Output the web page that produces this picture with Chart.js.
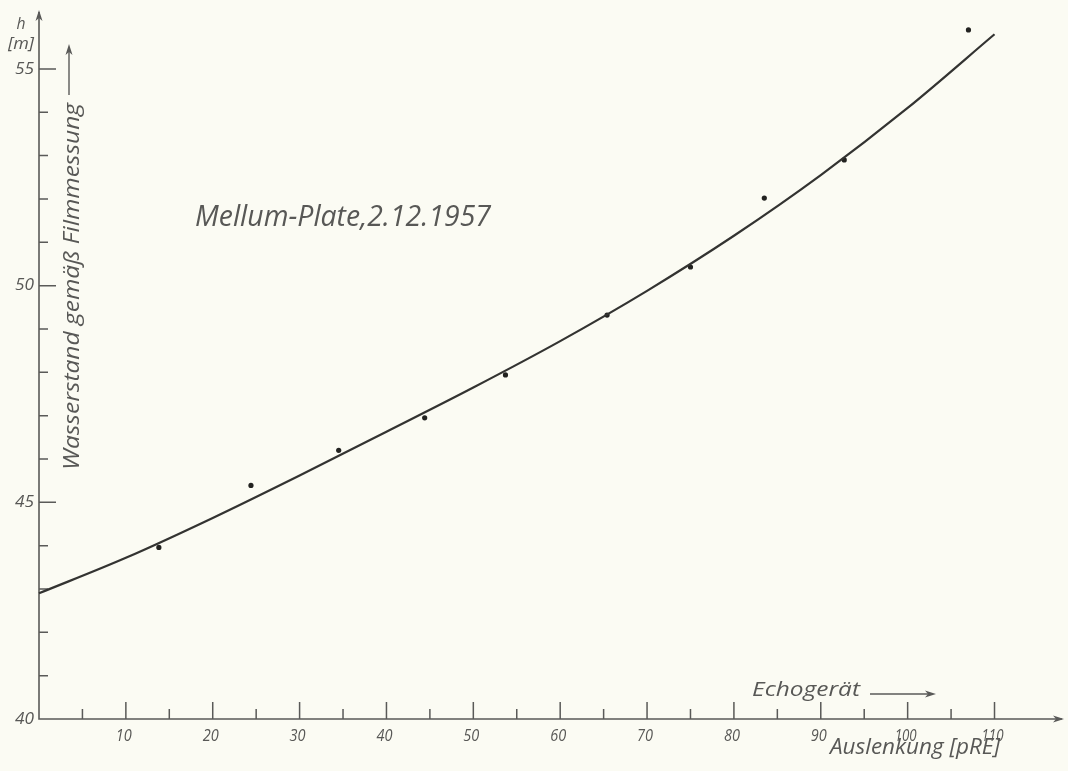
<!DOCTYPE html>
<html>
<head>
<meta charset="utf-8">
<script src="https://cdn.jsdelivr.net/npm/chart.js@4/dist/chart.umd.min.js"></script>
<style>
  html, body { margin: 0; padding: 0; background: #fbfbf3; }
  #wrap { width: 1068px; height: 771px; }
</style>
</head>
<body>
<div id="wrap"><canvas id="c" width="1068" height="771"></canvas></div>
<script>
// Fitted curve: water level (film measurement) vs. echo sounder deflection
const curveX = [0, 10, 20, 30, 40, 50, 60, 70, 80, 90, 100, 110];
const curveY = [42.9, 43.72, 44.64, 45.62, 46.63, 47.65, 48.72, 49.88, 51.15, 52.55, 54.1, 55.8];

// Measured points
const pointX = [13.8, 24.4, 34.5, 44.4, 53.7, 65.4, 75.0, 83.5, 92.7, 107.0];
const pointY = [43.96, 45.39, 46.2, 46.95, 47.94, 49.32, 50.43, 52.02, 52.9, 55.9];

// Axis ticks
const xMajorTicks = [10, 20, 30, 40, 50, 60, 70, 80, 90, 100, 110];
const xMinorTicks = [5, 15, 25, 35, 45, 55, 65, 75, 85, 95, 105];
const yMajorTicks = [40, 45, 50, 55];
const yMinorTicks = [41, 42, 43, 44, 46, 47, 48, 49, 51, 52, 53, 54];

const INK = '#585856';
const FONT = '"Open Sans", "DejaVu Sans", sans-serif';

// Text helper: italic drafting-style lettering squeezed to a given width
function letter(ctx, text, x, y, size, width, align, rot) {
  ctx.save();
  ctx.font = 'italic 400 ' + size + 'px ' + FONT;
  ctx.fillStyle = INK;
  ctx.textBaseline = 'middle';
  ctx.translate(x, y);
  if (rot) ctx.rotate(rot);
  const w = ctx.measureText(text).width;
  const sx = width ? width / w : 1;
  ctx.scale(sx, 1);
  let ox = 0;
  if (align === 'center') ox = -w / 2;
  else if (align === 'right') ox = -w;
  ctx.fillText(text, ox, 0);
  ctx.restore();
}

function arrowHead(ctx, x, y, dir) {
  ctx.save();
  ctx.translate(x, y);
  ctx.rotate(dir);
  ctx.beginPath();
  ctx.moveTo(0, 0);
  ctx.lineTo(-11, -3.5);
  ctx.lineTo(-8, 0);
  ctx.lineTo(-11, 3.5);
  ctx.closePath();
  ctx.fill();
  ctx.restore();
}

const axesPlugin = {
  id: 'draftAxes',
  beforeDatasetsDraw(chart) {
    const ctx = chart.ctx;
    const xs = chart.scales.x, ys = chart.scales.y;
    const x0 = xs.getPixelForValue(0);
    const y0 = ys.getPixelForValue(40);
    const xEnd = xs.getPixelForValue(xs.max);
    const yTop = ys.getPixelForValue(ys.max);

    ctx.save();
    ctx.strokeStyle = '#5a5a58';
    ctx.fillStyle = '#5a5a58';
    ctx.lineWidth = 1.6;

    // axis lines
    ctx.beginPath();
    ctx.moveTo(x0, yTop + 2);
    ctx.lineTo(x0, y0);
    ctx.lineTo(xEnd - 2, y0);
    ctx.stroke();
    arrowHead(ctx, xEnd, y0, 0);
    arrowHead(ctx, x0, yTop, -Math.PI / 2);

    // x ticks
    ctx.lineWidth = 1.5;
    ctx.beginPath();
    xMajorTicks.forEach(v => {
      const p = xs.getPixelForValue(v);
      ctx.moveTo(p, y0); ctx.lineTo(p, y0 - 17);
    });
    xMinorTicks.forEach(v => {
      const p = xs.getPixelForValue(v);
      ctx.moveTo(p, y0); ctx.lineTo(p, y0 - 10);
    });
    // y ticks
    yMajorTicks.forEach(v => {
      if (v === 40) return;
      const p = ys.getPixelForValue(v);
      ctx.moveTo(x0, p); ctx.lineTo(x0 + 17, p);
    });
    yMinorTicks.forEach(v => {
      const p = ys.getPixelForValue(v);
      ctx.moveTo(x0, p); ctx.lineTo(x0 + 9, p);
    });
    ctx.stroke();
    ctx.restore();

    // tick labels
    xMajorTicks.forEach(v => {
      const p = xs.getPixelForValue(v);
      letter(ctx, String(v), p - 2, y0 + 17, 16, v >= 100 ? 22 : 16, 'center');
    });
    yMajorTicks.forEach(v => {
      const p = ys.getPixelForValue(v);
      letter(ctx, String(v), x0 - 5, p, 16, 19, 'right');
    });

    // unit on the vertical axis
    letter(ctx, 'h', 21, 24, 16, 9, 'center');
    letter(ctx, '[m]', 21, 44, 16, 26, 'center');

    // vertical axis title with arrow
    letter(ctx, 'Wasserstand gemäß Filmmessung', 73, 470, 21, 367, 'left', -Math.PI / 2);
    ctx.save();
    ctx.strokeStyle = '#5a5a58';
    ctx.fillStyle = '#5a5a58';
    ctx.lineWidth = 1.4;
    ctx.beginPath();
    ctx.moveTo(69, 95); ctx.lineTo(69, 52);
    ctx.stroke();
    arrowHead(ctx, 69, 44, -Math.PI / 2);
    ctx.restore();

    // horizontal axis titles
    letter(ctx, 'Echogerät', 752, 690, 20, 108, 'left');
    ctx.save();
    ctx.strokeStyle = '#5a5a58';
    ctx.fillStyle = '#5a5a58';
    ctx.lineWidth = 1.4;
    ctx.beginPath();
    ctx.moveTo(870, 694); ctx.lineTo(928, 694);
    ctx.stroke();
    arrowHead(ctx, 936, 694, 0);
    ctx.restore();
    letter(ctx, 'Auslenkung [pRE]', 830, 748, 21, 170, 'left');

    // chart caption
    letter(ctx, 'Mellum-Plate,2.12.1957', 195, 218, 29, 296, 'left');
  }
};

new Chart(document.getElementById('c'), {
  type: 'scatter',
  data: {
    datasets: [
      {
        type: 'line',
        data: curveX.map((x, i) => ({ x: x, y: curveY[i] })),
        borderColor: '#333331',
        borderWidth: 2.2,
        pointRadius: 0,
        cubicInterpolationMode: 'monotone',
        fill: false,
        clip: false
      },
      {
        data: pointX.map((x, i) => ({ x: x, y: pointY[i] })),
        backgroundColor: '#222220',
        borderColor: '#222220',
        borderWidth: 0,
        pointRadius: 2.6,
        clip: false
      }
    ]
  },
  options: {
    responsive: false,
    animation: false,
    devicePixelRatio: 1,
    layout: { padding: { left: 39, right: 3, top: 10, bottom: 52 } },
    plugins: { legend: { display: false }, tooltip: { enabled: false } },
    scales: {
      x: { type: 'linear', min: 0, max: 118, display: false },
      y: { type: 'linear', min: 40, max: 56.36, display: false }
    }
  },
  plugins: [axesPlugin]
});
</script>
</body>
</html>
